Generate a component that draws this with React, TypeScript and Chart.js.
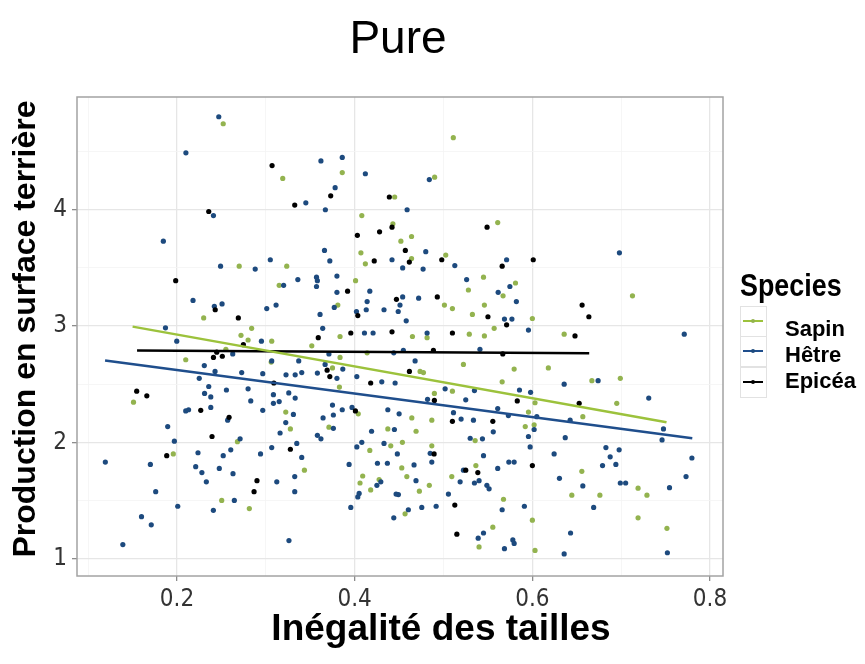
import React, { useEffect, useRef } from 'react';
import { Chart, registerables } from 'chart.js';

Chart.register(...registerables);

const TITLE = 'Pure';
const X_TITLE = 'Inégalité des tailles';
const Y_TITLE = 'Production en surface terrière';
const LEGEND_TITLE = 'Species';
const SPECIES = ['Sapin', 'Hêtre', 'Epicéa'];

const X_MAJOR = [0.2, 0.4, 0.6, 0.8];
const X_MINOR = [0.1, 0.3, 0.5, 0.7];
const Y_MAJOR = [1, 2, 3, 4];
const Y_MINOR = [1.5, 2.5, 3.5, 4.5];
const X_RANGE = [0.0874, 0.8146];
const Y_RANGE = [0.85, 4.97];

const SAPIN: [number, number][] = [
  [0.252, 4.74], [0.319, 4.27], [0.270, 3.515], [0.3235, 3.515], [0.315, 3.35], [0.230, 3.07], [0.284, 2.98], [0.272, 2.92],
  [0.511, 4.62], [0.386, 4.32], [0.490, 4.28], [0.445, 4.11], [0.408, 3.95], [0.443, 3.88], [0.561, 3.89], [0.464, 3.77],
  [0.452, 3.73], [0.407, 3.63], [0.412, 3.535], [0.464, 3.58], [0.5025, 3.61], [0.545, 3.42], [0.528, 3.31], [0.581, 3.37],
  [0.567, 3.26], [0.401, 3.39], [0.381, 3.18], [0.501, 3.18], [0.510, 3.15], [0.5325, 3.10], [0.546, 3.18], [0.557, 2.98],
  [0.600, 3.065], [0.3835, 2.91], [0.465, 2.91], [0.4815, 2.90], [0.529, 2.93], [0.546, 2.915], [0.6358, 2.93], [0.7127, 3.26],
  [0.2098, 2.71], [0.280, 2.88], [0.3066, 2.87], [0.255, 2.80], [0.306, 2.69], [0.151, 2.345], [0.3224, 2.26], [0.3276, 2.115],
  [0.268, 2.005], [0.1958, 1.90], [0.2503, 1.50], [0.2814, 1.43],
  [0.3517, 2.83], [0.3835, 2.73], [0.414, 2.77], [0.5224, 2.67], [0.375, 2.64], [0.3828, 2.475], [0.4736, 2.61], [0.4774, 2.60],
  [0.510, 2.44], [0.5795, 2.63], [0.566, 2.52], [0.618, 2.64], [0.6568, 2.22], [0.603, 2.34], [0.5956, 2.26], [0.592, 2.135],
  [0.602, 2.15], [0.6557, 1.75], [0.6444, 1.545], [0.603, 1.07], [0.600, 1.33], [0.5675, 1.51], [0.5555, 1.27], [0.540, 1.10],
  [0.4728, 1.58], [0.484, 1.63], [0.4567, 1.385], [0.4587, 1.705], [0.453, 1.78], [0.4275, 1.68], [0.418, 1.59], [0.409, 1.71],
  [0.406, 1.65], [0.417, 1.93], [0.404, 2.245], [0.371, 2.13], [0.4373, 2.115], [0.4406, 1.97], [0.4537, 2.00], [0.4643, 2.21],
  [0.4691, 2.095], [0.4868, 2.19], [0.4868, 1.97], [0.4897, 2.42], [0.5356, 2.015], [0.5364, 1.80], [0.5093, 1.705], [0.3434, 1.76],
  [0.667, 2.53], [0.699, 2.55], [0.695, 2.335], [0.719, 1.605], [0.729, 1.545], [0.676, 1.545], [0.719, 1.35], [0.7515, 1.26],
];

const HETRE: [number, number][] = [
  [0.247, 4.80], [0.210, 4.49], [0.241, 3.95], [0.1846, 3.73], [0.249, 3.515], [0.288, 3.49], [0.305, 3.57], [0.336, 3.40],
  [0.320, 3.35], [0.218, 3.22], [0.242, 3.17], [0.2507, 3.19], [0.301, 3.15], [0.3115, 3.18], [0.187, 2.985],
  [0.362, 4.42], [0.386, 4.45], [0.412, 4.31], [0.484, 4.26], [0.378, 4.19], [0.345, 4.06], [0.367, 4.00], [0.459, 4.00],
  [0.366, 3.65], [0.372, 3.56], [0.442, 3.57], [0.454, 3.50], [0.477, 3.49], [0.480, 3.64], [0.5127, 3.52], [0.526, 3.40],
  [0.571, 3.57], [0.5747, 3.34], [0.5615, 3.29], [0.582, 3.21], [0.357, 3.42], [0.358, 3.39], [0.357, 3.34], [0.380, 3.43],
  [0.380, 3.29], [0.417, 3.30], [0.377, 3.16], [0.361, 3.10], [0.402, 3.125], [0.414, 3.21], [0.413, 3.14], [0.433, 3.14],
  [0.454, 3.25], [0.451, 3.18], [0.449, 3.125], [0.458, 3.045], [0.472, 3.24], [0.5686, 3.06], [0.577, 3.06], [0.5956, 2.965],
  [0.364, 2.98], [0.411, 2.94], [0.4207, 2.94], [0.4815, 2.94], [0.698, 3.63], [0.771, 2.93],
  [0.1997, 2.87], [0.295, 2.87], [0.2627, 2.76], [0.2307, 2.66], [0.2428, 2.61], [0.225, 2.55], [0.2728, 2.60], [0.3066, 2.70],
  [0.2965, 2.59], [0.3227, 2.58], [0.333, 2.58], [0.2357, 2.48], [0.231, 2.42], [0.238, 2.39], [0.2556, 2.45], [0.280, 2.46],
  [0.283, 2.356], [0.3085, 2.41], [0.3085, 2.335], [0.315, 2.35], [0.3258, 2.425], [0.333, 2.38], [0.2098, 2.27], [0.213, 2.28],
  [0.238, 2.30], [0.257, 2.19], [0.2965, 2.275], [0.3224, 2.17], [0.331, 2.24], [0.1895, 2.135], [0.197, 2.01], [0.271, 2.03],
  [0.316, 2.08], [0.3348, 1.99], [0.3066, 1.955], [0.2605, 1.935], [0.2236, 1.91], [0.252, 1.885], [0.294, 1.90], [0.1193, 1.83],
  [0.170, 1.81], [0.221, 1.79], [0.2476, 1.775], [0.228, 1.74], [0.263, 1.73], [0.233, 1.66], [0.3123, 1.66], [0.3325, 1.705],
  [0.3325, 1.575], [0.176, 1.575], [0.2008, 1.45], [0.2645, 1.50], [0.2409, 1.415], [0.160, 1.36], [0.171, 1.29], [0.139, 1.12],
  [0.326, 1.155],
  [0.337, 2.70], [0.371, 2.76], [0.444, 2.77], [0.4548, 2.79], [0.541, 2.80], [0.468, 2.70], [0.3667, 2.67], [0.358, 2.595],
  [0.3404, 2.60], [0.380, 2.55], [0.3866, 2.63], [0.4024, 2.565], [0.4305, 2.52], [0.4455, 2.51], [0.5018, 2.46], [0.5348, 2.445],
  [0.5855, 2.45], [0.598, 2.43], [0.6358, 2.50], [0.6425, 2.19], [0.605, 2.22], [0.556, 2.09], [0.561, 2.29], [0.573, 2.23],
  [0.602, 2.11], [0.5956, 2.05], [0.5975, 1.96], [0.6245, 1.90], [0.637, 2.04], [0.6305, 1.69], [0.6568, 1.625], [0.643, 1.22],
  [0.6358, 1.04], [0.591, 1.45], [0.5795, 1.13], [0.578, 1.16], [0.5686, 1.085], [0.566, 1.42], [0.545, 1.22], [0.539, 1.175],
  [0.5055, 1.555], [0.4917, 1.45], [0.4755, 1.44], [0.469, 1.67], [0.4604, 1.42], [0.444, 1.35], [0.4492, 1.55], [0.4466, 1.555],
  [0.4668, 1.805], [0.4368, 1.82], [0.4256, 1.82], [0.4294, 1.66], [0.425, 1.63], [0.405, 1.56], [0.4035, 1.53], [0.3956, 1.44],
  [0.3937, 1.81], [0.4024, 1.96], [0.408, 2.00], [0.419, 2.095], [0.397, 2.30], [0.386, 2.28], [0.376, 2.235], [0.376, 2.12],
  [0.375, 2.32], [0.3644, 2.21], [0.358, 2.06], [0.362, 2.03], [0.3404, 1.87], [0.4373, 2.28], [0.450, 2.245], [0.4447, 2.11],
  [0.433, 1.99], [0.448, 1.90], [0.485, 1.905], [0.4868, 1.83], [0.482, 2.37], [0.5112, 2.255], [0.5198, 2.20], [0.525, 2.365],
  [0.5337, 2.19], [0.530, 2.035], [0.5438, 2.03], [0.545, 1.885], [0.5224, 1.76], [0.540, 1.67], [0.5348, 1.65], [0.5187, 1.66],
  [0.5488, 1.63], [0.5513, 1.60], [0.561, 1.775], [0.5735, 1.83], [0.5795, 1.83],
  [0.674, 2.53], [0.731, 2.38], [0.7476, 2.115], [0.746, 2.02], [0.6828, 1.955], [0.6977, 1.935], [0.6876, 1.875], [0.679, 1.80],
  [0.694, 1.81], [0.7796, 1.865], [0.773, 1.705], [0.7544, 1.61], [0.699, 1.65], [0.705, 1.65], [0.669, 1.44], [0.752, 1.05],
];

const EPICEA: [number, number][] = [
  [0.307, 4.38], [0.3325, 4.04], [0.2357, 3.985], [0.1985, 3.39], [0.243, 3.14], [0.269, 3.07],
  [0.373, 4.12], [0.439, 4.11], [0.403, 3.78], [0.428, 3.81], [0.442, 3.85], [0.549, 3.85], [0.422, 3.56], [0.457, 3.65],
  [0.4615, 3.55], [0.498, 3.57], [0.566, 3.515], [0.601, 3.57], [0.392, 3.30], [0.4035, 3.09], [0.447, 3.23], [0.493, 3.25],
  [0.550, 3.08], [0.571, 3.01], [0.656, 3.18], [0.6636, 3.08], [0.359, 2.90], [0.3956, 2.94], [0.442, 2.95], [0.510, 2.94],
  [0.648, 2.915],
  [0.2747, 2.84], [0.241, 2.73], [0.2447, 2.775], [0.251, 2.74], [0.309, 2.51], [0.1546, 2.44], [0.166, 2.40], [0.2267, 2.275],
  [0.2586, 2.215], [0.2394, 2.05], [0.3276, 1.94], [0.1884, 1.885], [0.290, 1.67], [0.2867, 1.575],
  [0.369, 2.62], [0.372, 2.565], [0.418, 2.51], [0.4616, 2.61], [0.5667, 2.76], [0.4886, 2.79], [0.583, 2.356], [0.6527, 2.335],
  [0.5555, 2.18], [0.600, 1.80], [0.515, 1.21], [0.5127, 1.46], [0.4008, 2.27], [0.4894, 1.90], [0.4897, 2.36], [0.510, 2.18],
  [0.525, 1.76], [0.5386, 1.74],
];

const SAPIN_TREND: [number, number][] = [[0.150, 2.995], [0.751, 2.173]];
const HETRE_TREND: [number, number][] = [[0.119, 2.703], [0.780, 2.035]];
const EPICEA_TREND: [number, number][] = [[0.155, 2.79], [0.664, 2.765]];

const LINE_COLORS = ['#9cc23c', '#1f4e8c', '#000000'];
const POINT_COLORS = ['#93b34f', '#1d4a7e', '#000000'];

const NARROW = '"Liberation Sans Narrow", "DejaVu Sans Condensed", "Liberation Sans", Arial, sans-serif';
const SANS = '"Liberation Sans", Arial, Helvetica, sans-serif';

const near = (v: number, list: number[]) => list.some((m) => Math.abs(m - v) < 1e-6);
const toXY = (arr: [number, number][]) => arr.map(([x, y]) => ({ x, y }));

const decor = {
  id: 'decor',
  afterDraw(chart: any) {
    const { ctx, chartArea: a } = chart;
    ctx.save();
    // panel border
    ctx.strokeStyle = '#a3a3a3';
    ctx.lineWidth = 1.5;
    ctx.strokeRect(a.left, a.top, a.right - a.left, a.bottom - a.top);

    ctx.fillStyle = '#000';
    // title
    ctx.font = `46px ${SANS}`;
    ctx.textAlign = 'center';
    ctx.textBaseline = 'alphabetic';
    ctx.fillText(TITLE, 398, 53);

    // x title
    ctx.font = `bold 37px ${SANS}`;
    ctx.fillText(X_TITLE, 441, 640);

    // y title
    ctx.save();
    ctx.translate(35, 329);
    ctx.rotate(-Math.PI / 2);
    ctx.font = `bold 32px ${SANS}`;
    ctx.fillText(Y_TITLE, 0, 0);
    ctx.restore();

    // legend title (condensed)
    ctx.textAlign = 'left';
    ctx.save();
    ctx.translate(740, 296);
    ctx.scale(0.84, 1);
    ctx.font = `bold 32px ${SANS}`;
    ctx.fillStyle = '#000';
    ctx.fillText(LEGEND_TITLE, 0, 0);
    ctx.restore();

    const keyTops = [306, 336, 367];
    const textBase = [336, 362, 388];
    SPECIES.forEach((name, i) => {
      const top = keyTops[i];
      ctx.fillStyle = '#ffffff';
      ctx.fillRect(740, top, 26, 30);
      ctx.strokeStyle = '#e2e2e2';
      ctx.lineWidth = 1;
      ctx.strokeRect(740.5, top + 0.5, 26, 30);
      const cy = top + 15;
      ctx.strokeStyle = LINE_COLORS[i];
      ctx.lineWidth = 2;
      ctx.beginPath();
      ctx.moveTo(743, cy);
      ctx.lineTo(763, cy);
      ctx.stroke();
      ctx.fillStyle = POINT_COLORS[i];
      ctx.beginPath();
      ctx.arc(753, cy, 2, 0, Math.PI * 2);
      ctx.fill();
      ctx.fillStyle = '#000';
      ctx.font = `bold 22px ${SANS}`;
      ctx.fillText(name, 785, textBase[i]);
    });
    ctx.restore();
  },
};

export default function App() {
  const ref = useRef<HTMLCanvasElement | null>(null);

  useEffect(() => {
    if (!ref.current) return;
    const scatterDs = [SAPIN, HETRE, EPICEA].map((pts, i) => ({
      label: SPECIES[i],
      data: toXY(pts),
      backgroundColor: POINT_COLORS[i],
      borderWidth: 0,
      pointRadius: 2.6,
      pointHoverRadius: 2.6,
      order: 3 - i,
    }));
    const trendDs = [SAPIN_TREND, HETRE_TREND, EPICEA_TREND].map((pts, i) => ({
      label: SPECIES[i] + ' trend',
      data: toXY(pts),
      showLine: true,
      borderColor: LINE_COLORS[i],
      borderWidth: 2.5,
      pointRadius: 0,
      fill: false,
      order: 0,
    }));

    const chart = new Chart(ref.current, {
      type: 'scatter',
      data: { datasets: [...scatterDs, ...trendDs] as any },
      options: {
        animation: false,
        responsive: false,
        maintainAspectRatio: false,
        devicePixelRatio: 1,
        layout: { padding: { top: 97, right: 142, left: 0, bottom: 0 } },
        plugins: { legend: { display: false }, title: { display: false }, tooltip: { enabled: false } },
        scales: {
          x: {
            type: 'linear',
            min: X_RANGE[0],
            max: X_RANGE[1],
            afterFit: (s: any) => { s.height = 88; },
            afterBuildTicks: (s: any) => {
              s.ticks = [...X_MINOR, ...X_MAJOR].sort((p, q) => p - q).map((v) => ({ value: v }));
            },
            border: { display: false },
            grid: {
              color: (c: any) => (near(c.tick.value, X_MAJOR) ? '#e6e6e6' : '#f4f4f4'),
              lineWidth: (c: any) => (near(c.tick.value, X_MAJOR) ? 1.3 : 0.8),
              tickColor: (c: any) => (near(c.tick.value, X_MAJOR) ? '#8c8c8c' : 'rgba(0,0,0,0)'),
              tickLength: 5,
              drawTicks: true,
            },
            ticks: {
              autoSkip: false,
              maxRotation: 0,
              padding: 4,
              color: '#333333',
              font: { family: NARROW, size: 24 },
              callback: (v: any) => (near(Number(v), X_MAJOR) ? String(v) : ''),
            },
          },
          y: {
            type: 'linear',
            min: Y_RANGE[0],
            max: Y_RANGE[1],
            afterFit: (s: any) => { s.width = 77; },
            afterBuildTicks: (s: any) => {
              s.ticks = [...Y_MAJOR, ...Y_MINOR].sort((p, q) => p - q).map((v) => ({ value: v }));
            },
            border: { display: false },
            grid: {
              color: (c: any) => (near(c.tick.value, Y_MAJOR) ? '#e6e6e6' : '#f4f4f4'),
              lineWidth: (c: any) => (near(c.tick.value, Y_MAJOR) ? 1.3 : 0.8),
              tickColor: (c: any) => (near(c.tick.value, Y_MAJOR) ? '#8c8c8c' : 'rgba(0,0,0,0)'),
              tickLength: 5,
              drawTicks: true,
            },
            ticks: {
              autoSkip: false,
              padding: 5,
              color: '#333333',
              font: { family: NARROW, size: 24 },
              callback: (v: any) => (near(Number(v), Y_MAJOR) ? String(v) : ''),
            },
          },
        },
      } as any,
      plugins: [decor],
    });
    return () => chart.destroy();
  }, []);

  return (
    <div style={{ position: 'absolute', left: 0, top: 0, width: 865, height: 664, background: '#fff' }}>
      <canvas ref={ref} width={865} height={664} style={{ width: 865, height: 664, display: 'block' }} />
    </div>
  );
}
